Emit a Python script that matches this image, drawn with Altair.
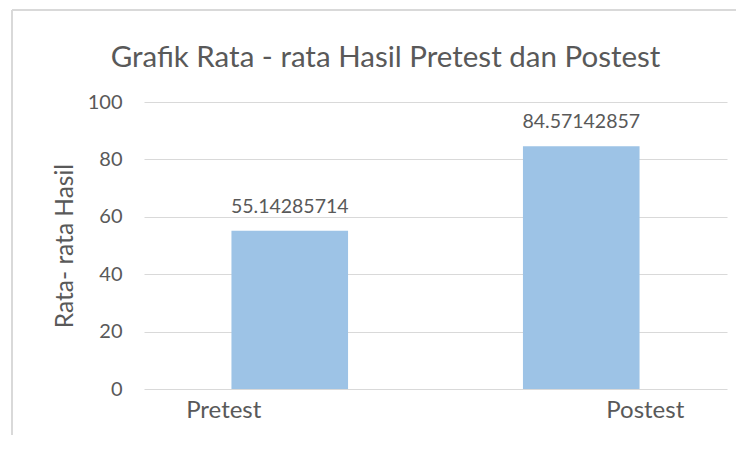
import altair as alt
import pandas as pd

categories = ["Pretest", "Postest"]
values = [55.14285714, 84.57142857]
y_ticks = [0, 20, 40, 60, 80, 100]

df = pd.DataFrame({"kategori": categories, "nilai": values})

W, H = 583, 287
FONT = "Lato"
TXT = "#595959"
GRID = "#D9D9D9"

base = alt.Chart(df)

x_enc = alt.X(
    "kategori:N",
    sort=categories,
    scale=alt.Scale(paddingInner=0.6, paddingOuter=0.3),
    axis=alt.Axis(
        title=None, labelAngle=0, ticks=False, domain=False, grid=False,
        labelPadding=9, labelFontSize=24, labelFont=FONT, labelColor=TXT,
        labelOffset={"condition": {"test": "datum.value === 'Pretest'", "value": -66}, "value": 64},
    ),
)
y_enc = alt.Y(
    "nilai:Q",
    scale=alt.Scale(domain=[0, 100]),
    axis=alt.Axis(
        values=y_ticks, title="Rata- rata Hasil", ticks=False, domain=False,
        grid=True, gridColor=GRID, gridWidth=1,
        labelPadding=22, labelFontSize=20, labelFont=FONT, labelColor=TXT,
        titleFont=FONT, titleFontSize=24.5, titleFontWeight="normal", titleColor=TXT,
        titlePadding=10,
    ),
)

bars = base.mark_bar(color="#9DC3E6").encode(x=x_enc, y=y_enc)
labels = base.mark_text(
    baseline="alphabetic", dy=-18, font=FONT, fontSize=19.5, color=TXT
).encode(x=alt.X("kategori:N", sort=categories), y="nilai:Q",
         text=alt.Text("nilai:Q", format=".8f"))

frame_df = pd.DataFrame({"f": [0]})
frame_v = alt.Chart(frame_df).mark_rule(color=GRID, strokeWidth=2).encode(
    x=alt.value(-132), y=alt.value(-92), y2=alt.value(H + 80))
frame_h = alt.Chart(frame_df).mark_rule(color=GRID, strokeWidth=2).encode(
    y=alt.value(-92), x=alt.value(-132), x2=alt.value(W + 60))

chart = alt.layer(frame_v, frame_h, bars, labels).properties(
    width=W, height=H,
    title=alt.TitleParams(
        "Grafik Rata - rata Hasil Pretest dan Postest",
        font=FONT, fontSize=29.5, fontWeight="normal", color=TXT,
        dx=-50, dy=87, offset=0, baseline="alphabetic",
    ),
    autosize=alt.AutoSizeParams(type="none"),
    padding={"left": 136, "top": 94, "right": 9, "bottom": 46},
).configure_view(stroke=None)

chart.save("out.html", embed_options={"renderer": "svg", "actions": False})
